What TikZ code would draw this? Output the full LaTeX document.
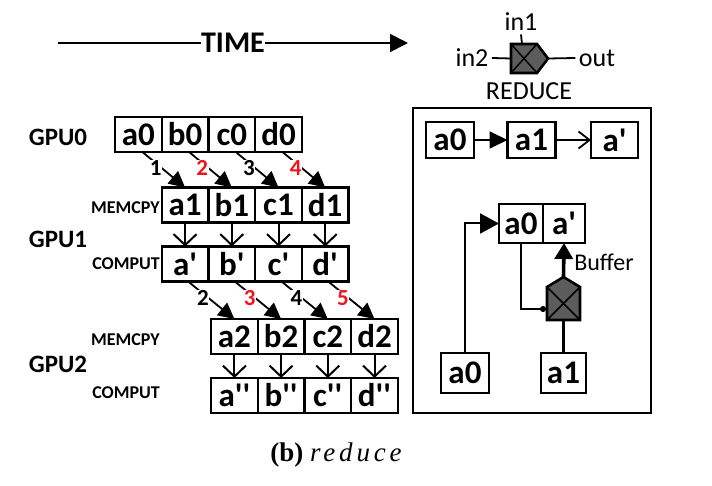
\documentclass[tikz,border=0pt]{standalone}
\usepackage{fontspec}
\setmainfont{Carlito}[Ligatures=TeXOff]
\newfontfamily\capfont{Liberation Serif}
\usetikzlibrary{arrows.meta,positioning}
\definecolor{hopred}{RGB}{240,20,30}
\definecolor{symgray}{RGB}{92,92,92}

\begin{document}
\begin{tikzpicture}[x=1pt,y=-1pt,
    cell/.style={draw,line width=2.4pt,minimum width=46.7pt,minimum height=35pt,
      inner sep=0pt,outer sep=0pt,font=\fontsize{33}{33}\selectfont\bfseries},
    pcell/.style={cell,minimum width=48pt,minimum height=36pt},
    gpulabel/.style={font=\fontsize{25}{25}\selectfont\bfseries},
    phaselabel/.style={anchor=east,inner sep=0pt,font=\fontsize{18}{18}\selectfont\bfseries},
    hop/.style={line width=1.8pt,-{Triangle[length=16pt,width=16pt]}},
    hoplabel/.style={fill=white,inner sep=0.5pt,font=\fontsize{23}{23}\selectfont\bfseries},
    drop/.style={line width=2pt,-{Straight Barb[length=11pt,width=23pt,line width=2pt]}},
    legtext/.style={font=\fontsize{26}{26}\selectfont},
    sym/.style={fill=symgray,draw=black,line width=2.6pt,line join=miter}]
  \useasboundingbox (0,0) rectangle (712,486);

  % time axis
  \coordinate (tbeg) at (58,43);
  \coordinate (tend) at (408,43);
  \draw[line width=1.8pt,-{Triangle[length=18pt,width=18pt]}] (tbeg) --
    node[fill=white,inner sep=0.5pt,font=\fontsize{30}{30}\selectfont\bfseries] (time) {TIME} (tend);

  % legend of the reduce unit
  \filldraw[sym] (511,44) -- (537,44) -- (548,58.5) -- (537,73) -- (511,73) -- cycle;
  \draw[line width=1.5pt] (511,44) -- (537,73) (511,73) -- (537,44);
  \coordinate (lgin1) at (522,44);
  \coordinate (lgin2) at (511,58.5);
  \coordinate (lgout) at (548,58.5);
  \node[legtext] (in1) at (521,22) {in1};
  \node[legtext] (in2) at (472,58) {in2};
  \node[legtext] (out) at (597,58) {out};
  \node[legtext] (reduce) at (529,91) {REDUCE};
  \draw[line width=1.8pt] (lgin1) -- (in1.south);
  \draw[line width=1.8pt] (in2.east) -- (lgin2);
  \draw[line width=1.8pt] (lgout) -- (out.west);

  % row labels
  \node[gpulabel] (gpu0) at (58,137) {GPU0};
  \node[gpulabel] (gpu1) at (58,239) {GPU1};
  \node[gpulabel] (gpu2) at (58,364) {GPU2};
  \node[phaselabel] (mem1) at (160,208) {MEMCPY};
  \node[phaselabel] (comp1) at (160,264) {COMPUT};
  \node[phaselabel] (mem2) at (160,340) {MEMCPY};
  \node[phaselabel] (comp2) at (160,393) {COMPUT};

  % GPU0
  \node[cell] (g0a) at (138.4,134.5) {a0};
  \node[cell,right=0pt of g0a] (g0b) {b0};
  \node[cell,right=0pt of g0b] (g0c) {c0};
  \node[cell,right=0pt of g0c] (g0d) {d0};
  % GPU1
  \node[cell] (m1a) at (185.1,205) {a1};
  \node[cell,right=0pt of m1a] (m1b) {b1};
  \node[cell,right=0pt of m1b] (m1c) {c1};
  \node[cell,right=0pt of m1c] (m1d) {d1};
  \node[cell] (c1a) at (185.1,264) {a'};
  \node[cell,right=0pt of c1a] (c1b) {b'};
  \node[cell,right=0pt of c1b] (c1c) {c'};
  \node[cell,right=0pt of c1c] (c1d) {d'};
  % GPU2
  \node[cell] (m2a) at (234.4,336.5) {a2};
  \node[cell,right=0pt of m2a] (m2b) {b2};
  \node[cell,right=0pt of m2b] (m2c) {c2};
  \node[cell,right=0pt of m2c] (m2d) {d2};
  \node[cell] (c2a) at (234.4,395.5) {a''};
  \node[cell,right=0pt of c2a] (c2b) {b''};
  \node[cell,right=0pt of c2b] (c2c) {c''};
  \node[cell,right=0pt of c2c] (c2d) {d''};

  % copies GPU0 -> GPU1
  \draw[hop] ([xshift=4pt]g0a.south) -- node[hoplabel,pos=0.45,xshift=-6pt] {1} (m1a.north);
  \draw[hop] ([xshift=4pt]g0b.south) -- node[hoplabel,pos=0.45,xshift=-6pt,text=hopred] {2} (m1b.north);
  \draw[hop] ([xshift=4pt]g0c.south) -- node[hoplabel,pos=0.45,xshift=-6pt] {3} (m1c.north);
  \draw[hop] ([xshift=4pt]g0d.south) -- node[hoplabel,pos=0.45,xshift=-6pt,text=hopred] {4} (m1d.north);
  \draw[drop] (m1a) -- (c1a);
  \draw[drop] (m1b) -- (c1b);
  \draw[drop] (m1c) -- (c1c);
  \draw[drop] (m1d) -- (c1d);
  % copies GPU1 -> GPU2
  \draw[hop] ([xshift=3pt]c1a.south) -- node[hoplabel,pos=0.45,xshift=-6pt] {2} (m2a.north);
  \draw[hop] ([xshift=3pt]c1b.south) -- node[hoplabel,pos=0.45,xshift=-6pt,text=hopred] {3} (m2b.north);
  \draw[hop] ([xshift=3pt]c1c.south) -- node[hoplabel,pos=0.45,xshift=-6pt] {4} (m2c.north);
  \draw[hop] ([xshift=3pt]c1d.south) -- node[hoplabel,pos=0.45,xshift=-6pt,text=hopred] {5} (m2d.north);
  \draw[drop] (m2a) -- (c2a);
  \draw[drop] (m2b) -- (c2b);
  \draw[drop] (m2c) -- (c2c);
  \draw[drop] (m2d) -- (c2d);

  % REDUCE panel
  \draw[line width=2.4pt] (413,108) rectangle (651,413);
  \node[pcell] (r0) at (450,140) {a0};
  \node[pcell] (r1) at (531.5,140) {a1};
  \node[pcell,minimum width=47pt] (r2) at (614.5,140) {a'};
  \draw[line width=1.8pt,-{Triangle[length=18pt,width=17pt]}] (r0) -- (r1);
  \draw[line width=1.8pt,-{Straight Barb[length=11pt,width=17pt,line width=1.8pt]}] (r1) -- (r2);
  \node[pcell,minimum width=44pt,minimum height=39pt] (ba) at (521,223.5) {a0};
  \node[pcell,minimum width=42pt,minimum height=39pt,right=0pt of ba] (bb) {a'};
  \node[pcell,minimum height=40pt] (q0) at (465,373) {a0};
  \node[pcell,minimum width=45pt,minimum height=40pt] (q1) at (563.5,373) {a1};
  \filldraw[sym] (547,320) -- (547,287) -- (563.5,277) -- (580,287) -- (580,320) -- cycle;
  \draw[line width=1.5pt] (547,287) -- (580,320) (547,320) -- (580,287);
  \coordinate (sl) at (546,309);
  \coordinate (sb) at (563.5,320);
  \coordinate (st) at (563.5,277);
  \draw[line width=2pt,-{Triangle[length=19pt,width=20pt]}] (q0.north) |- (ba.west);
  \draw[line width=2pt,-{Circle[length=6pt]}] (ba.south) |- (sl);
  \draw[line width=3.6pt] (q1.north) -- (sb);
  \draw[line width=3.6pt,-{Triangle[length=16pt,width=18pt]}] (st) -- (bb.south);
  \node[legtext,font=\fontsize{24}{24}\selectfont] (buf) at (604,262) {Buffer};

  % caption
  \node[font=\capfont\fontsize{27}{27}\selectfont] (cap) at (336,455)
    {{\bfseries(b)}\ {\itshape\addfontfeature{LetterSpace=14}reduce}};
\end{tikzpicture}
\end{document}
